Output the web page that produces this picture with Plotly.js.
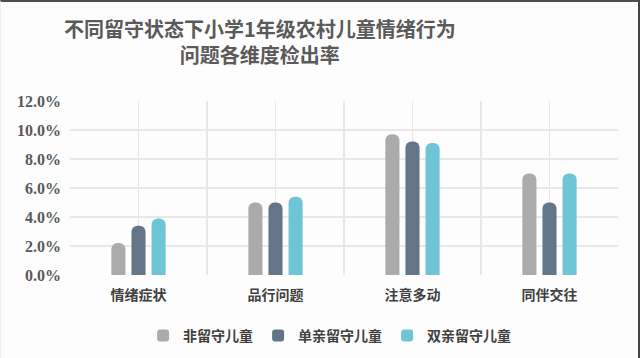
<!DOCTYPE html>
<html>
<head>
<meta charset="utf-8">
<script src="https://cdn.plot.ly/plotly-3.0.1.min.js"></script>
<style>
html,body{margin:0;padding:0;background:#fff;}
#wrap{position:relative;width:640px;height:358px;}
#chart{width:640px;height:358px;}
#frame{position:absolute;left:0;top:0;border-top:2px solid #4d4d4d;border-right:2px solid #444;border-left:1px solid #eee;box-sizing:border-box;width:640px;height:358px;pointer-events:none;}
</style>
</head>
<body>
<div id="wrap"><div id="chart"></div><div id="frame"></div></div>
<script>
var categories = ["情绪症状", "品行问题", "注意多动", "同伴交往"];
var seriesNames = ["非留守儿童", "单亲留守儿童", "双亲留守儿童"];
var nonLeftBehind = [0.022, 0.050, 0.097, 0.070];
var singleParent = [0.034, 0.050, 0.092, 0.050];
var bothParents = [0.039, 0.054, 0.091, 0.070];
var yTickVals = [0, 0.02, 0.04, 0.06, 0.08, 0.10, 0.12];
var yTickText = ["0.0%", "2.0%", "4.0%", "6.0%", "8.0%", "10.0%", "12.0%"];
var colors = ["#ABABAB", "#637587", "#6EC5D5"];

var values = [nonLeftBehind, singleParent, bothParents];
var traces = values.map(function(v, i){
  return {
    type: "bar", x: categories, y: v, name: seriesNames[i],
    marker: {color: colors[i], cornerradius: 6},
    hoverinfo: "skip"
  };
});
// invisible trace on overlay axis for the vertical half-category gridlines
traces.push({type: "scatter", x: [-0.5, 3.5], y: [0, 0], xaxis: "x2", mode: "none", showlegend: false, hoverinfo: "skip"});

var layout = {
  width: 640, height: 358,
  paper_bgcolor: "#fdfdfd", plot_bgcolor: "#fdfdfd",
  margin: {l: 70, r: 22, t: 101, b: 83},
  title: {
    text: "不同留守状态下小学1年级农村儿童情绪行为<br>问题各维度检出率",
    x: 0.406, xanchor: "center", y: 0.897, yanchor: "middle",
    font: {family: "Noto Sans CJK SC", size: 20, color: "#5a5a5a", weight: "bold"}
  },
  barmode: "group", bargap: 0.56, bargroupgap: 0.3,
  xaxis: {
    type: "category", showgrid: false, zeroline: false,
    showline: false, ticks: "", ticklabelstandoff: 10,
    tickfont: {family: "Noto Sans CJK SC", size: 14, color: "#404040", weight: "bold"},
    range: [-0.5, 3.5]
  },
  xaxis2: {
    overlaying: "x", type: "linear", range: [-0.5, 3.5], dtick: 0.5, tick0: -0.5,
    showgrid: true, gridcolor: "#E8E8E8", gridwidth: 1.5, showticklabels: false,
    zeroline: false, showline: false, ticks: ""
  },
  yaxis: {
    range: [0, 0.12], tickvals: yTickVals, ticktext: yTickText,
    showgrid: true, gridcolor: "#E8E8E8", gridwidth: 1.5, zeroline: false,
    tickfont: {family: "Liberation Serif", size: 16, color: "#595959", weight: "bold"},
    ticklabelstandoff: 8
  },
  legend: {
    orientation: "h", xref: "container", yref: "container",
    x: 0.515, xanchor: "center", y: 1 - 336/358, yanchor: "middle",
    font: {family: "Noto Sans CJK SC", size: 14, color: "#404040", weight: "bold"},
    itemwidth: 30, tracegroupgap: 0, bgcolor: "rgba(0,0,0,0)"
  },
  showlegend: true
};

Plotly.newPlot("chart", traces, layout, {displayModeBar: false, staticPlot: true});
</script>
</body>
</html>
